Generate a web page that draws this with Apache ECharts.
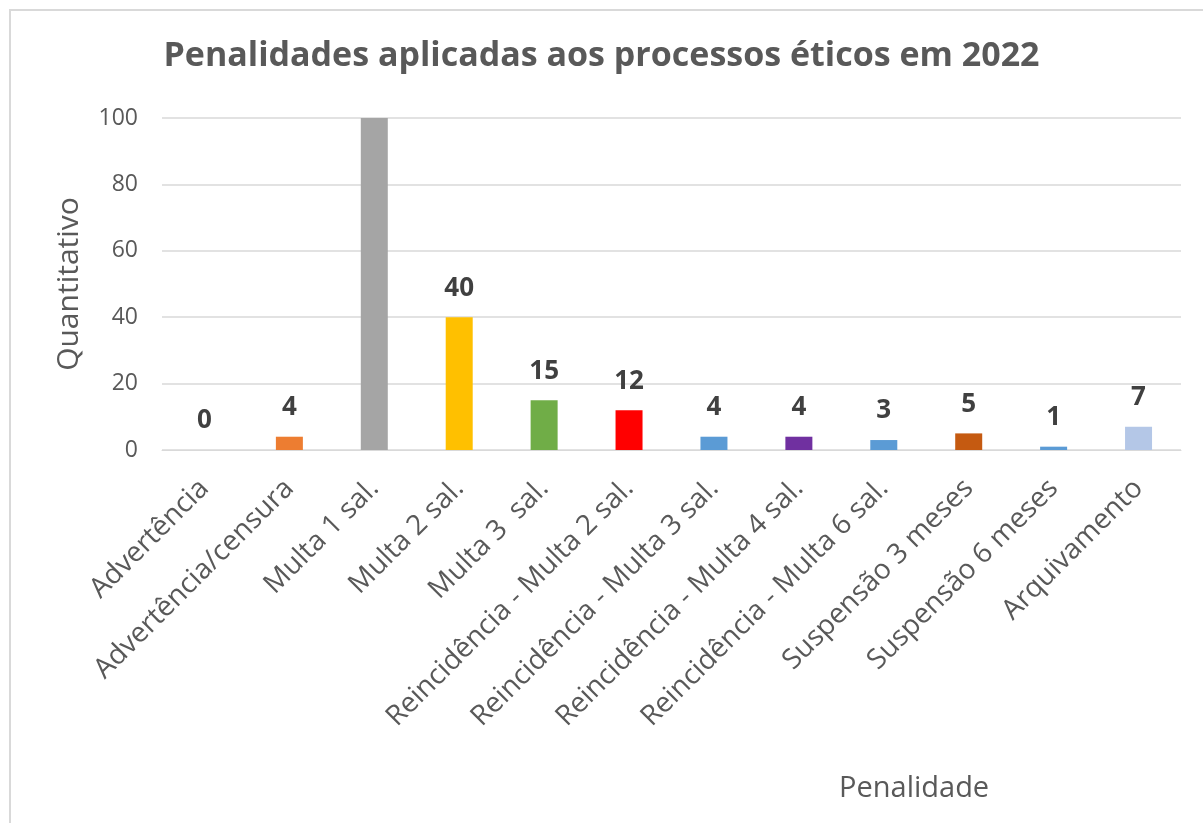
<!DOCTYPE html>
<html>
<head>
<meta charset="utf-8">
<script src="https://cdn.jsdelivr.net/npm/echarts@6/dist/echarts.min.js"></script>
<style>
  html, body { margin: 0; padding: 0; background: #fff; }
  #myChart { width: 1203px; height: 823px; }
</style>
</head>
<body>
<div id="myChart"></div>
<script>
// categorias e valores
var categorias = ['Advertência', 'Advertência/censura', 'Multa 1 sal.', 'Multa 2 sal.', 'Multa 3  sal.',
  'Reincidência - Multa 2 sal.', 'Reincidência - Multa 3 sal.', 'Reincidência - Multa 4 sal.',
  'Reincidência - Multa 6 sal.', 'Suspensão 3 meses', 'Suspensão 6 meses', 'Arquivamento'];
var valores = [0, 4, 110, 40, 15, 12, 4, 4, 3, 5, 1, 7];
var yTicks = [0, 20, 40, 60, 80, 100];
var cores = ['#5B9BD5', '#ED7D31', '#A5A5A5', '#FFC000', '#70AD47', '#FF0000',
  '#5B9BD5', '#7030A0', '#5B9BD5', '#C55A11', '#5B9BD5', '#B4C7E7'];

var yMax = yTicks[yTicks.length - 1];
var font = '"Open Sans", "DejaVu Sans", sans-serif';

var myChart = echarts.init(document.getElementById('myChart'));
myChart.setOption({
  animation: false,
  title: [
    {
      text: 'Penalidades aplicadas aos processos éticos em 2022',
      left: 'center', top: 34,
      textStyle: { fontFamily: font, fontSize: 34, fontWeight: 'bold', color: '#595959' }
    },
    {
      text: 'Penalidade',
      left: 834, top: 769,
      textStyle: { fontFamily: font, fontSize: 29, fontWeight: 'normal', color: '#595959' }
    }
  ],
  graphic: [{
    type: 'rect',
    shape: { x: 10, y: 10, width: 1200, height: 820 },
    style: { fill: 'none', stroke: '#d9d9d9', lineWidth: 2 },
    silent: true
  }],
  grid: { left: 162, right: 22, top: 118, bottom: 373, containLabel: false },
  xAxis: {
    type: 'category',
    data: categorias,
    axisLine: { lineStyle: { color: '#d9d9d9' } },
    axisTick: { show: false },
    axisLabel: { rotate: 45, interval: 0, fontFamily: font, fontSize: 28, color: '#595959', margin: 34 }
  },
  yAxis: {
    type: 'value',
    min: 0, max: yMax, interval: 20,
    name: 'Quantitativo',
    nameLocation: 'middle',
    nameGap: 78,
    nameTextStyle: { fontFamily: font, fontSize: 30, color: '#595959' },
    axisLine: { show: false },
    axisTick: { show: false },
    axisLabel: { fontFamily: font, fontSize: 23, color: '#595959', margin: 24 },
    splitLine: { lineStyle: { color: '#d9d9d9', width: 1.5 } }
  },
  series: [{
    type: 'bar',
    barWidth: 27,
    data: valores.map(function (v, i) {
      return {
        value: v,
        itemStyle: { color: cores[i] },
        label: { show: v <= yMax }
      };
    }),
    label: {
      position: 'top',
      distance: 16,
      fontFamily: font, fontSize: 26, fontWeight: 'bold', color: '#404040'
    }
  }]
});
</script>
</body>
</html>
